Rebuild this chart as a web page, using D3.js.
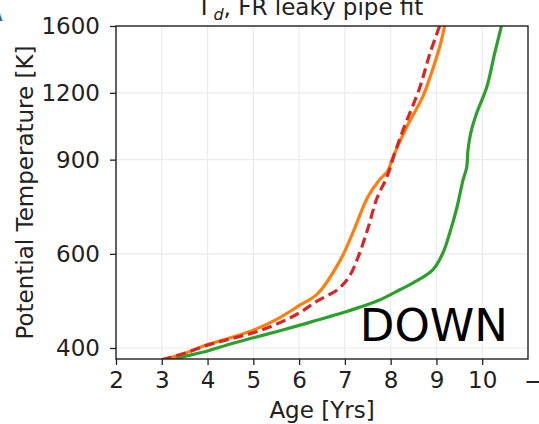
<!DOCTYPE html>
<html>
<head>
<meta charset="utf-8">
<script src="https://cdn.jsdelivr.net/npm/d3@7"></script>
<style>
  body { margin: 0; background: #fff; }
  svg { display: block; font-family: "DejaVu Sans", sans-serif; }
</style>
</head>
<body>
<div id="chart"></div>
<script>
var width = 539;
var height = 424;
var margin = { left: 116, right: 11, top: 26, bottom: 65 };
var fontSize = 23;

var titleText = "FR leaky pipe fit";
var xLabel = "Age [Yrs]";
var yLabel = "Potential Temperature [K]";
var panelNote = "DOWN";

var xTicks = [2, 3, 4, 5, 6, 7, 8, 9, 10];
var yTicks = [400, 600, 900, 1200, 1600];

// [age, temperature]
var orangeLine = [[3.0, 380], [3.5, 391], [4.0, 406], [4.5, 418], [5.0, 432], [5.5, 452], [6.0, 480], [6.4, 505],
    [6.9, 584], [7.17, 656], [7.5, 766], [7.76, 826], [7.94, 858], [8.04, 905], [8.35, 1036], [8.7, 1179],
    [8.86, 1284], [9.07, 1462], [9.18, 1600]];
var redLine = [[3.0, 380], [3.5, 391], [4.0, 405], [4.5, 416], [5.0, 427], [5.5, 443], [6.0, 465], [6.4, 490],
    [6.85, 515], [7.1, 545], [7.3, 595], [7.5, 668], [7.7, 762], [7.92, 836], [8.09, 926], [8.27, 1022],
    [8.64, 1231], [8.86, 1424], [9.07, 1600]];
var greenLine = [[3.1, 378], [3.46, 385], [4.0, 395], [4.5, 407], [5.0, 418], [5.5, 429], [6.0, 441], [7.0, 467],
    [7.76, 492], [8.2, 514], [8.5, 530], [8.92, 560], [9.14, 602], [9.29, 656], [9.45, 734], [9.58, 824],
    [9.66, 870], [9.69, 940], [9.75, 1010], [9.88, 1100], [10.1, 1230], [10.27, 1420], [10.42, 1600]];

var series = [
    { data: greenLine, color: "#2ca02c", dash: null },
    { data: orangeLine, color: "#ff7f0e", dash: null },
    { data: redLine, color: "#d62728", dash: "10,5" }
];

var plotW = width - margin.left - margin.right;
var plotH = height - margin.top - margin.bottom;

var x = d3.scaleLinear().domain([2, 11]).range([0, plotW]);
var y = d3.scaleLog().domain([381.5, 1600]).range([plotH, 0]);

var svg = d3.select("#chart").append("svg")
    .attr("width", width)
    .attr("height", height);

svg.append("defs").append("clipPath")
    .attr("id", "plotClip")
    .append("rect")
    .attr("width", plotW)
    .attr("height", plotH);

var g = svg.append("g")
    .attr("transform", "translate(" + margin.left + "," + margin.top + ")");

// grid
g.selectAll(".xgrid").data(xTicks).enter().append("line")
    .attr("x1", function (d) { return x(d); })
    .attr("x2", function (d) { return x(d); })
    .attr("y1", 0)
    .attr("y2", plotH)
    .attr("stroke", "#ebebeb")
    .attr("stroke-width", 1.2);
g.selectAll(".ygrid").data(yTicks).enter().append("line")
    .attr("x1", 0)
    .attr("x2", plotW)
    .attr("y1", function (d) { return y(d); })
    .attr("y2", function (d) { return y(d); })
    .attr("stroke", "#ebebeb")
    .attr("stroke-width", 1.2);

// curves
var line = d3.line()
    .x(function (d) { return x(d[0]); })
    .y(function (d) { return y(d[1]); })
    .curve(d3.curveCatmullRom.alpha(0.5));

var curves = g.append("g").attr("clip-path", "url(#plotClip)");
for (var i = 0; i < series.length; i++) {
    var s = series[i];
    var p = curves.append("path")
        .datum(s.data)
        .attr("d", line)
        .attr("fill", "none")
        .attr("stroke", s.color)
        .attr("stroke-width", 3.2);
    if (s.dash) p.attr("stroke-dasharray", s.dash);
}

// axes
var xAxis = d3.axisBottom(x).tickValues(xTicks).tickSize(6).tickPadding(7).tickFormat(d3.format("d"));
var yAxis = d3.axisLeft(y).tickValues(yTicks).tickSize(6).tickPadding(10).tickFormat(d3.format("d"));

var gx = g.append("g").attr("transform", "translate(0," + plotH + ")").call(xAxis);
var gy = g.append("g").call(yAxis);
[gx, gy].forEach(function (a) {
    a.select(".domain").remove();
    a.selectAll("line").attr("stroke", "#222").attr("stroke-width", 1.3);
    a.selectAll("text").attr("fill", "#222").style("font-size", fontSize + "px").style("font-family", "DejaVu Sans");
});

// frame
g.append("rect")
    .attr("width", plotW)
    .attr("height", plotH)
    .attr("fill", "none")
    .attr("stroke", "#222")
    .attr("stroke-width", 1.4);

// note inside the plot
g.append("text")
    .attr("x", plotW - 20)
    .attr("y", plotH - 18)
    .attr("text-anchor", "end")
    .style("font-size", "45px")
    .attr("fill", "#000")
    .text(panelNote);

// labels
svg.append("text")
    .attr("x", margin.left + plotW / 2)
    .attr("y", 418)
    .attr("text-anchor", "middle")
    .style("font-size", fontSize + "px")
    .attr("fill", "#222")
    .text(xLabel);

svg.append("text")
    .attr("transform", "translate(33," + (margin.top + plotH / 2) + ") rotate(-90)")
    .attr("text-anchor", "middle")
    .style("font-size", fontSize + "px")
    .attr("fill", "#222")
    .text(yLabel);

var title = svg.append("text")
    .attr("x", margin.left + plotW / 2 - 10)
    .attr("y", 15)
    .attr("text-anchor", "middle")
    .style("font-size", fontSize + "px")
    .attr("fill", "#222");
title.append("tspan").text("\u0393");
title.append("tspan").style("font-style", "italic").style("font-size", "16px").attr("dy", 5).text("d");
title.append("tspan").attr("dy", -5).text(", " + titleText);

// bits of neighbouring panels showing at the edges
svg.append("text")
    .attr("x", -16)
    .attr("y", 21)
    .style("font-size", "24px")
    .style("font-weight", "bold")
    .attr("fill", "#3465a4")
    .text("A");
svg.append("text")
    .attr("x", 524)
    .attr("y", 389)
    .style("font-size", fontSize + "px")
    .attr("fill", "#222")
    .text("\u2212");
</script>
</body>
</html>
